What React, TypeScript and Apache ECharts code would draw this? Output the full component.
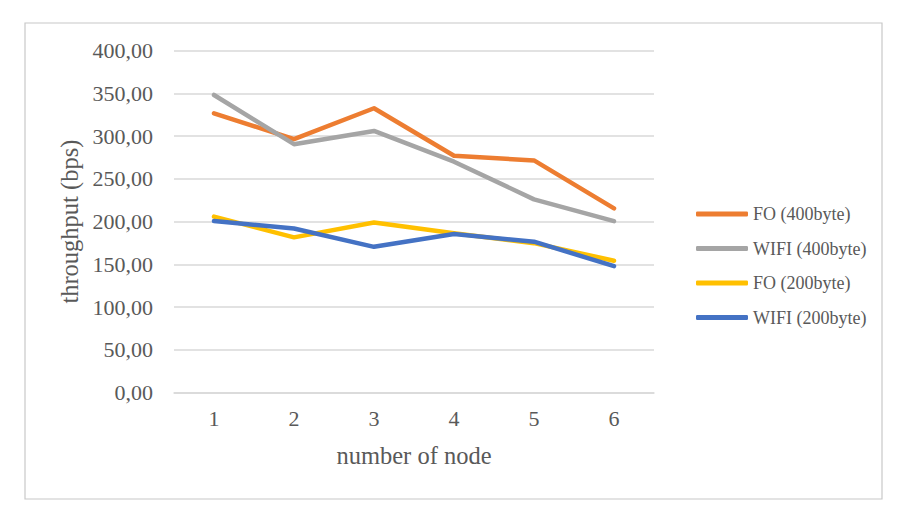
import React, { useEffect, useRef } from "react";
import * as echarts from "echarts";

const nodes = ["1", "2", "3", "4", "5", "6"];
const fo400 = [326.6, 296.5, 332.5, 277, 271.5, 215.5];
const wifi400 = [348, 290.5, 306, 270, 226, 200.5];
const fo200 = [205.8, 181.6, 199, 186.5, 174.8, 154.3];
const wifi200 = [200.7, 192, 170.5, 185.5, 176.5, 148];
const seriesNames = ["FO (400byte)", "WIFI (400byte)", "FO (200byte)", "WIFI (200byte)"];
const colors = ["#ED7D31", "#A5A5A5", "#FFC000", "#4472C4"];

const FONT = "'Liberation Serif', 'Times New Roman', serif";
const TEXT = "#595959";

export default function App() {
  const ref = useRef<HTMLDivElement>(null);

  useEffect(() => {
    document.body.style.margin = "0";
    if (!ref.current) return;
    const chart = echarts.init(ref.current, undefined, { renderer: "svg" });
    const values = [fo400, wifi400, fo200, wifi200];
    chart.setOption({
      animation: false,
      backgroundColor: "#ffffff",
      textStyle: { fontFamily: FONT },
      graphic: [
        {
          type: "rect",
          shape: { x: 25, y: 23, width: 857, height: 476 },
          style: { fill: "none", stroke: "#c8c8c8", lineWidth: 1.2 },
          silent: true,
        },
      ],
      grid: { left: 174, right: 248, top: 50.5, bottom: 129.3 },
      legend: {
        orient: "vertical",
        left: 691,
        top: 199,
        icon: "roundRect",
        itemWidth: 52,
        itemHeight: 5,
        itemGap: 14.5,
        data: seriesNames,
        textStyle: { fontFamily: FONT, fontSize: 18, color: TEXT, lineHeight: 20 },
      },
      xAxis: {
        type: "category",
        data: nodes,
        boundaryGap: true,
        axisTick: { show: false },
        axisLine: { lineStyle: { color: "#d9d9d9", width: 1.5 } },
        axisLabel: { fontFamily: FONT, fontSize: 22, color: TEXT, margin: 15 },
        name: "number of node",
        nameLocation: "middle",
        nameGap: 50,
        nameTextStyle: { fontFamily: FONT, fontSize: 24.5, color: TEXT },
      },
      yAxis: {
        type: "value",
        min: 0,
        max: 400,
        interval: 50,
        axisLine: { show: false },
        axisTick: { show: false },
        splitLine: { lineStyle: { color: "#d9d9d9", width: 1.5 } },
        axisLabel: {
          fontFamily: FONT,
          fontSize: 22,
          color: TEXT,
          margin: 21,
          formatter: (v: number) => v.toFixed(2).replace(".", ","),
        },
        name: "throughput (bps)",
        nameLocation: "middle",
        nameRotate: 90,
        nameGap: 92,
        nameTextStyle: { fontFamily: FONT, fontSize: 24.5, color: TEXT },
      },
      series: seriesNames.map((name, i) => ({
        name,
        type: "line",
        data: values[i],
        symbol: "none",
        color: colors[i],
        lineStyle: { width: 4.5, color: colors[i], cap: "round", join: "round" },
      })),
    });
    return () => chart.dispose();
  }, []);

  return <div ref={ref} style={{ width: 902, height: 522 }} />;
}
